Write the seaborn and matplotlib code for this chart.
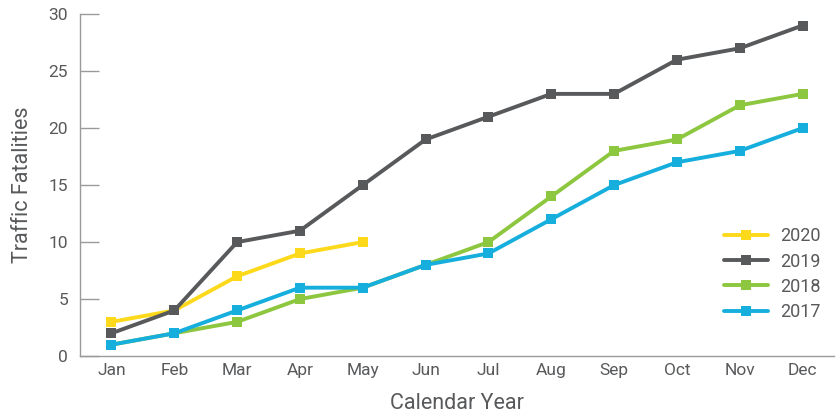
import matplotlib
matplotlib.use("Agg")
import matplotlib.pyplot as plt
from matplotlib.ticker import FixedLocator
import seaborn as sns
import pandas as pd

months = ["Jan", "Feb", "Mar", "Apr", "May", "Jun",
          "Jul", "Aug", "Sep", "Oct", "Nov", "Dec"]
fatalities_2020 = [3, 4, 7, 9, 10]
fatalities_2019 = [2, 4, 10, 11, 15, 19, 21, 23, 23, 26, 27, 29]
fatalities_2018 = [1, 2, 3, 5, 6, 8, 10, 14, 18, 19, 22, 23]
fatalities_2017 = [1, 2, 4, 6, 6, 8, 9, 12, 15, 17, 18, 20]
years = ["2020", "2019", "2018", "2017"]
colors = ["#FDD91B", "#58595B", "#8DC63F", "#16AEDD"]
y_ticks = [0, 5, 10, 15, 20, 25, 30]

TEXT = "#58595B"
AXIS = "#9A9A9A"

sns.set_style("white")
plt.rcParams["font.family"] = ["Roboto", "DejaVu Sans"]

rows = []
for year, vals in zip(years, [fatalities_2020, fatalities_2019,
                              fatalities_2018, fatalities_2017]):
    for i, v in enumerate(vals):
        rows.append({"month_idx": i, "fatalities": v, "year": year})
df = pd.DataFrame(rows)

fig = plt.figure(figsize=(8.39, 4.15), dpi=100)
ax = fig.add_axes([0.0954, 0.142, 0.8986, 0.824])

sns.lineplot(data=df, x="month_idx", y="fatalities", hue="year",
             hue_order=years, palette=colors, marker="s", markersize=7.5,
             markeredgewidth=0, linewidth=2.8, dashes=False, ax=ax)

ax.set_xlim(-0.5, 11.5)
ax.set_ylim(0, 30)
ax.set_xticks(range(len(months)))
ax.set_xticklabels(months)
ax.xaxis.set_minor_locator(FixedLocator([i - 0.5 for i in range(13)]))
ax.set_yticks(y_ticks)

ax.tick_params(axis="x", which="major", length=0, pad=5,
               labelsize=12.5, labelcolor=TEXT)
ax.tick_params(axis="x", which="minor", direction="in", length=6,
               width=1, color=AXIS)
ax.tick_params(axis="y", direction="in", length=14, width=1, color=AXIS,
               pad=8.5, labelsize=12.5, labelcolor=TEXT, left=True)

for side in ["top", "right"]:
    ax.spines[side].set_visible(False)
for side in ["left", "bottom"]:
    ax.spines[side].set_color(AXIS)
    ax.spines[side].set_linewidth(1)

ax.set_xlabel("Calendar Year", fontsize=15.5, color=TEXT, labelpad=11)
ax.set_ylabel("Traffic Fatalities", fontsize=15.5, color=TEXT, labelpad=11)

leg = ax.legend(loc="lower right", bbox_to_anchor=(1.004, 0.055),
                frameon=False, fontsize=13, handlelength=2.4,
                handletextpad=0.7, labelspacing=0.4)
for text in leg.get_texts():
    text.set_color(TEXT)

fig.savefig("out.png", dpi=100)
